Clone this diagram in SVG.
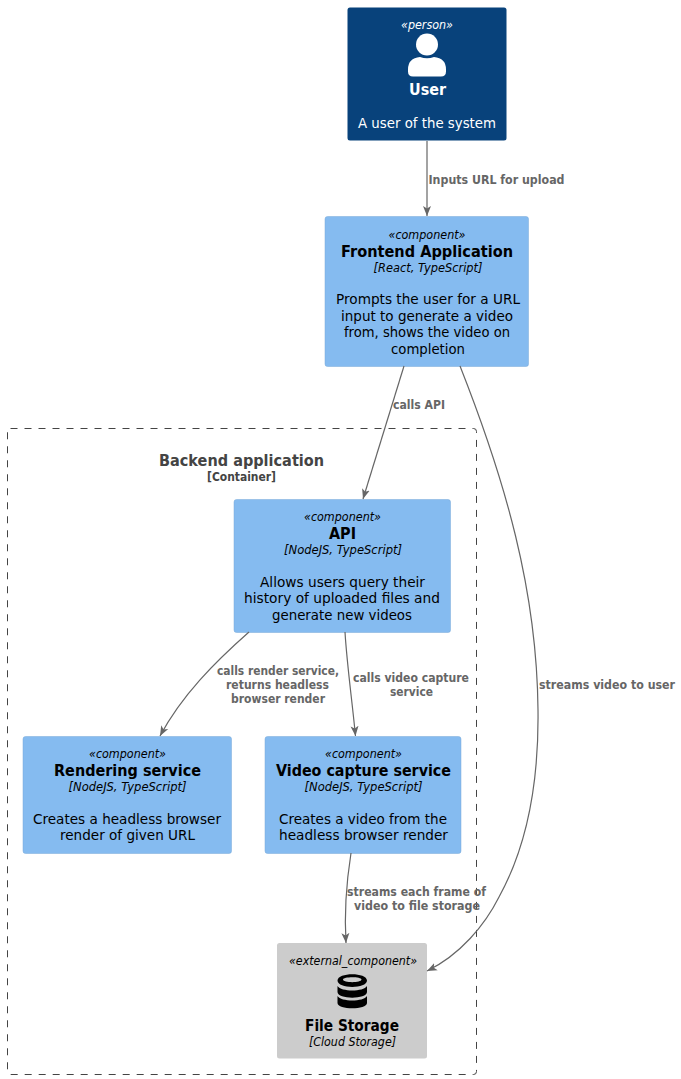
<svg xmlns="http://www.w3.org/2000/svg" width="681" height="1079" viewBox="0 0 681 1079">
<style>
text{font-family:"DejaVu Sans",Verdana,sans-serif;text-anchor:middle;fill:#000}
.s{font-size:12px;font-style:italic}
.t{font-size:16px;font-weight:bold}
.k{font-size:12px;font-style:italic}
.d{font-size:14px}
.l{font-size:11.500px;font-weight:bold;fill:#666}
.w{fill:#fff}
.c{fill:#85BBF0;stroke:#78A8D8;stroke-width:.5}
.e{fill:none;stroke:#666;stroke-width:1.200}
</style>
<defs><marker id="a" markerUnits="userSpaceOnUse" markerWidth="12" markerHeight="12" refX="10" refY="5" orient="auto"><path d="M0 1L10 5L0 9L2.500 5Z" fill="#666"/></marker></defs>
<g id="boundary">
<rect x="7.500" y="428.500" width="469" height="646" rx="3" fill="none" stroke="#444" stroke-dasharray="7 7"/>
<text x="241.500" y="466" textLength="165" lengthAdjust="spacingAndGlyphs" style="font-size:16px;font-weight:bold;fill:#444">Backend application</text>
<text x="241.500" y="481" textLength="69" lengthAdjust="spacingAndGlyphs" style="font-size:12px;font-weight:bold;fill:#444">[Container]</text>
</g>
<g id="user">
<rect x="347.500" y="7.500" width="159" height="133" rx="2.500" fill="#08427B"/>
<text x="427" y="29" textLength="52" lengthAdjust="spacingAndGlyphs" class="s w">«person»</text>
<circle cx="427" cy="44.500" r="11" fill="#fff"/>
<path d="M408 76.500V69.500Q408 58 420 57Q427 59.500 434 57Q446 58 446 69.500V71.500Q446 76.500 441 76.500H413Q408 76.500 408 71.500Z" fill="#fff"/>
<text x="427.500" y="95" textLength="37" lengthAdjust="spacingAndGlyphs" class="t w">User</text>
<text x="427" y="128" textLength="138" lengthAdjust="spacingAndGlyphs" class="d w">A user of the system</text>
</g>
<g id="frontend">
<rect x="325" y="216.500" width="203.500" height="150" rx="2.500" class="c"/>
<text x="427" y="239" textLength="77" lengthAdjust="spacingAndGlyphs" class="s">«component»</text>
<text x="427" y="257" textLength="172" lengthAdjust="spacingAndGlyphs" class="t">Frontend Application</text>
<text x="428" y="272" textLength="109" lengthAdjust="spacingAndGlyphs" class="k">[React, TypeScript]</text>
<text x="428" y="304" textLength="184" lengthAdjust="spacingAndGlyphs" class="d">Prompts the user for a URL</text>
<text x="427" y="321" textLength="172" lengthAdjust="spacingAndGlyphs" class="d">input to generate a video</text>
<text x="427" y="337" textLength="166" lengthAdjust="spacingAndGlyphs" class="d">from, shows the video on</text>
<text x="428" y="354" textLength="74" lengthAdjust="spacingAndGlyphs" class="d">completion</text>
</g>
<g id="api">
<rect x="234" y="499.500" width="216.500" height="133" rx="2.500" class="c"/>
<text x="342.500" y="521" textLength="77" lengthAdjust="spacingAndGlyphs" class="s">«component»</text>
<text x="342.500" y="539" textLength="27" lengthAdjust="spacingAndGlyphs" class="t">API</text>
<text x="343" y="554" textLength="118" lengthAdjust="spacingAndGlyphs" class="k">[NodeJS, TypeScript]</text>
<text x="342.500" y="587" textLength="165" lengthAdjust="spacingAndGlyphs" class="d">Allows users query their</text>
<text x="342" y="603" textLength="196" lengthAdjust="spacingAndGlyphs" class="d">history of uploaded files and</text>
<text x="342" y="620" textLength="140" lengthAdjust="spacingAndGlyphs" class="d">generate new videos</text>
</g>
<g id="rendering">
<rect x="23" y="736.500" width="208.500" height="117" rx="2.500" class="c"/>
<text x="127.500" y="758" textLength="77" lengthAdjust="spacingAndGlyphs" class="s">«component»</text>
<text x="127.500" y="776" textLength="147" lengthAdjust="spacingAndGlyphs" class="t">Rendering service</text>
<text x="127.500" y="791" textLength="118" lengthAdjust="spacingAndGlyphs" class="k">[NodeJS, TypeScript]</text>
<text x="127" y="824" textLength="188" lengthAdjust="spacingAndGlyphs" class="d">Creates a headless browser</text>
<text x="127.500" y="840" textLength="135" lengthAdjust="spacingAndGlyphs" class="d">render of given URL</text>
</g>
<g id="video">
<rect x="265" y="736.500" width="196" height="117" rx="2.500" class="c"/>
<text x="363.500" y="758" textLength="77" lengthAdjust="spacingAndGlyphs" class="s">«component»</text>
<text x="363.500" y="776" textLength="175" lengthAdjust="spacingAndGlyphs" class="t">Video capture service</text>
<text x="363.500" y="791" textLength="118" lengthAdjust="spacingAndGlyphs" class="k">[NodeJS, TypeScript]</text>
<text x="363" y="824" textLength="168" lengthAdjust="spacingAndGlyphs" class="d">Creates a video from the</text>
<text x="363.500" y="840" textLength="169" lengthAdjust="spacingAndGlyphs" class="d">headless browser render</text>
</g>
<g id="storage">
<rect x="277" y="943" width="150" height="115.500" rx="2.500" fill="#CCCCCC"/>
<text x="353" y="965" textLength="128" lengthAdjust="spacingAndGlyphs" class="s">«external_component»</text>
<path d="M337.500 980.500C337.500 972 367 972 367 980.500C367 989 337.500 989 337.500 980.500ZM343 979.500C343 976.500 361.500 976.500 361.500 979.500C361.500 983 343 983 343 979.500Z" fill-rule="evenodd"/>
<path d="M337.500 986C341 992 363.500 992 367 986V992C367 999.500 337.500 999.500 337.500 992Z"/>
<path d="M337.500 996C341 1002 363.500 1002 367 996V1003C367 1010 337.500 1010 337.500 1003Z"/>
<text x="352" y="1031" textLength="94" lengthAdjust="spacingAndGlyphs" class="t">File Storage</text>
<text x="352.500" y="1046" textLength="87" lengthAdjust="spacingAndGlyphs" class="k">[Cloud Storage]</text>
</g>
<g id="connectors">
<path class="e" marker-end="url(#a)" d="M427 141V216"/>
<path class="e" marker-end="url(#a)" d="M404 366L363 499"/>
<path class="e" marker-end="url(#a)" d="M249 632C215 662 182 695 160 736"/>
<path class="e" marker-end="url(#a)" d="M345 632C347 665 352 700 355.500 736"/>
<path class="e" marker-end="url(#a)" d="M351 853C346 885 344 910 346 943"/>
<path class="e" marker-end="url(#a)" d="M460 366C505 480 537 590 538 710C539 790 525 850 499 897C485 925 460 955 427 971"/>
<text x="496.500" y="184" textLength="136" lengthAdjust="spacingAndGlyphs" class="l">Inputs URL for upload</text>
<text x="419" y="409" textLength="52" lengthAdjust="spacingAndGlyphs" class="l">calls API</text>
<text x="278" y="675" textLength="122" lengthAdjust="spacingAndGlyphs" class="l">calls render service,</text>
<text x="277.500" y="689" textLength="103" lengthAdjust="spacingAndGlyphs" class="l">returns headless</text>
<text x="278" y="703" textLength="94" lengthAdjust="spacingAndGlyphs" class="l">browser render</text>
<text x="411" y="682" textLength="116" lengthAdjust="spacingAndGlyphs" class="l">calls video capture</text>
<text x="411.500" y="696" textLength="43" lengthAdjust="spacingAndGlyphs" class="l">service</text>
<text x="416.500" y="896" textLength="139" lengthAdjust="spacingAndGlyphs" class="l">streams each frame of</text>
<text x="417" y="910" textLength="126" lengthAdjust="spacingAndGlyphs" class="l">video to file storage</text>
<text x="607" y="689" textLength="136" lengthAdjust="spacingAndGlyphs" class="l">streams video to user</text>
</g>
</svg>
